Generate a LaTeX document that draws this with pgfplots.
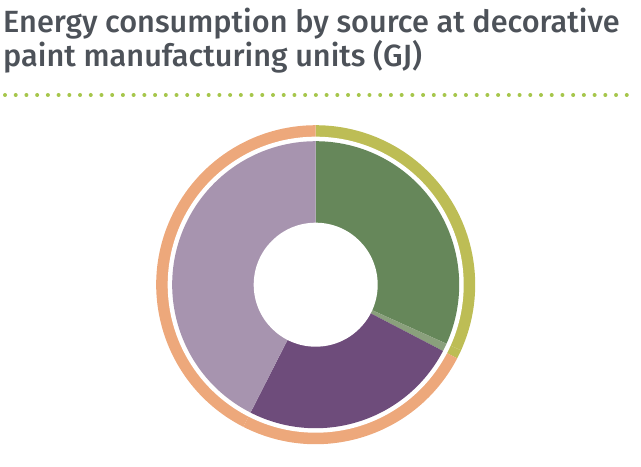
\documentclass[border=0pt]{standalone}
\usepackage{pgfplots}
\pgfplotsset{compat=1.18}
\usepackage{pgfplotstable}
\usepackage{fontspec}
\setmainfont{Fira Sans}[UprightFont=* Medium]
\usetikzlibrary{calc}

% palette
\definecolor{titlegray}{HTML}{4D5259}
\definecolor{dotgreen}{HTML}{A6C64B}
\definecolor{in0}{HTML}{66875A}
\definecolor{in1}{HTML}{8AA07C}
\definecolor{in2}{HTML}{6E4C7B}
\definecolor{in3}{HTML}{A794AF}
\definecolor{out0}{HTML}{BDBD55}
\definecolor{out1}{HTML}{BDBD55}
\definecolor{out2}{HTML}{EDA87B}
\definecolor{out3}{HTML}{EDA87B}

% share of total energy (%), clockwise from 12 o'clock
\pgfplotstableread{
idx share
0   31.75
1   0.89
2   24.86
3   42.50
}\energydata

% cumulative start/end angles (tikz convention) for each slice
\gdef\acc{0}
\foreach \i in {0,...,3}{%
  \pgfplotstablegetelem{\i}{share}\of\energydata
  \pgfmathsetmacro\b{\acc+3.6*\pgfplotsretval}%
  \pgfmathsetmacro\ta{90-\acc}%
  \pgfmathsetmacro\tb{90-\b}%
  \expandafter\xdef\csname sa\i\endcsname{\ta}%
  \expandafter\xdef\csname ea\i\endcsname{\tb}%
  \xdef\acc{\b}%
}

\begin{document}
\begin{tikzpicture}
\begin{axis}[
    width=641bp, height=447bp, scale only axis,
    xmin=0, xmax=641, ymin=0, ymax=447,
    enlargelimits=false, hide axis, clip=false,
  ]
  \path (axis cs:0,0) rectangle (axis cs:641,447);
  \coordinate (c) at (axis cs:315.7,162.3);

  % title
  \node[anchor=base west, inner sep=0pt, text=titlegray, font=\fontsize{30.8}{34}\selectfont]
    at (axis cs:3,414) {Energy consumption by source at decorative};
  \node[anchor=base west, inner sep=0pt, text=titlegray, font=\fontsize{30.8}{34}\selectfont]
    at (axis cs:3,380) {paint manufacturing units (GJ)};

  % dotted rule
  \draw[dotgreen, line width=4bp, line cap=round, dash pattern=on 0bp off 10.72bp]
    (axis cs:5,352) -- (axis cs:637,352);

  % outer ring
  \pgfplotsinvokeforeach{0,...,3}{
    \fill[out#1] (c) -- ++(\csname sa#1\endcsname:159.5bp)
      arc[start angle=\csname sa#1\endcsname, end angle=\csname ea#1\endcsname, radius=159.5bp] -- cycle;
  }
  \fill[white] (c) circle[radius=148bp];

  % inner pie
  \pgfplotsinvokeforeach{0,...,3}{
    \fill[in#1] (c) -- ++(\csname sa#1\endcsname:143.5bp)
      arc[start angle=\csname sa#1\endcsname, end angle=\csname ea#1\endcsname, radius=143.5bp] -- cycle;
  }
  \fill[white] (c) circle[radius=62bp];
\end{axis}
\end{tikzpicture}
\end{document}
